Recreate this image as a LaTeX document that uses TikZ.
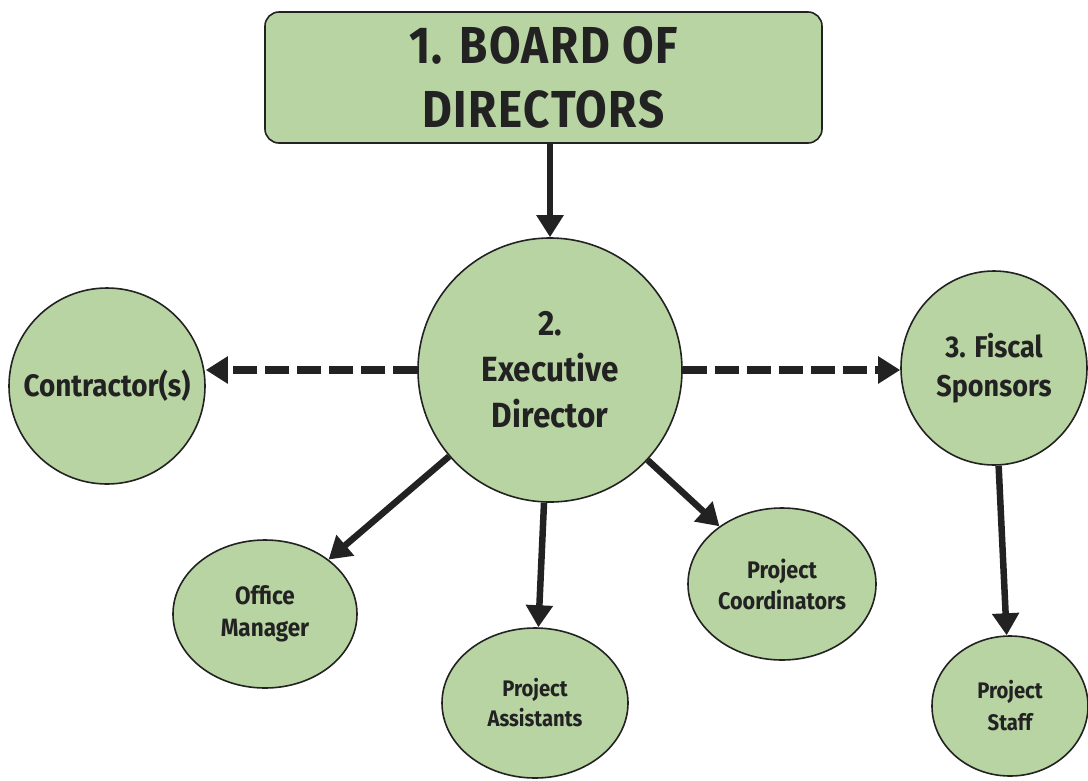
\documentclass[tikz,border=0pt]{standalone}
\usepackage{fontspec}
\usetikzlibrary{arrows.meta,shapes.geometric}
\newfontfamily\dinfont[FakeStretch=0.9]{Fira Sans}
\newfontfamily\boardfont[FakeStretch=0.88,LetterSpace=3]{Fira Sans}
\definecolor{boxgreen}{HTML}{B8D4A2}
\definecolor{ink}{HTML}{222222}
\tikzset{
  bubble/.style={draw=ink, line width=1.6pt, fill=boxgreen, text=ink, align=center, inner sep=0pt},
  circ/.style={bubble, circle, minimum size=#1},
  ell/.style={bubble, ellipse},
  solidarrow/.style={draw=ink, line width=6.5pt, -{Triangle[length=22pt,width=26pt]}},
  dasharrow/.style={draw=ink, line width=8pt, dash pattern=on 24pt off 8pt, -{Triangle[length=22pt,width=26pt]}},
}
\begin{document}
\begin{tikzpicture}[x=1pt,y=-1pt]
\useasboundingbox (0,0) rectangle (1088,780);
\node[bubble, rectangle, rounded corners=14pt, minimum width=557pt, minimum height=131pt,
      font=\boardfont\bfseries\fontsize{52}{64}\selectfont] (board) at (543.5,77.5) {1. BOARD OF\\DIRECTORS};
\node[circ=264pt, font=\dinfont\bfseries\fontsize{35}{46}\selectfont] (exec) at (550,370) {2.\\Executive\\Director};
\node[circ=196pt, font=\dinfont\bfseries\fontsize{31}{34}\selectfont] (contr) at (107,386) {Contractor(s)};
\node[ell, minimum width=186pt, minimum height=194pt, font=\dinfont\bfseries\fontsize{30}{39}\selectfont] (fiscal) at (994,368) {3. Fiscal\\Sponsors};
\node[ell, minimum width=184pt, minimum height=148pt, font=\dinfont\bfseries\fontsize{25}{32}\selectfont] (office) at (265,614) {Office\\Manager};
\node[ell, minimum width=186pt, minimum height=150pt, font=\dinfont\bfseries\fontsize{22.5}{30}\selectfont] (assist) at (535,703) {Project\\Assistants};
\node[ell, minimum width=188pt, minimum height=152pt, font=\dinfont\bfseries\fontsize{24}{31}\selectfont] (coord) at (782,584) {Project\\Coordinators};
\node[ell, minimum width=156pt, minimum height=140pt, font=\dinfont\bfseries\fontsize{22.5}{32}\selectfont] (staff) at (1010,706) {Project\\Staff};
\draw[solidarrow] (board.south -| exec.north) -- (exec.north);
\draw[solidarrow] (exec) -- (office);
\draw[solidarrow] (exec) -- (assist);
\draw[solidarrow] (exec) -- (coord);
\draw[solidarrow] (fiscal) -- (staff);
\draw[dasharrow] (exec.west) -- (contr.east |- exec.west);
\draw[dasharrow] (exec.east) -- (fiscal.west |- exec.east);
\end{tikzpicture}
\end{document}
